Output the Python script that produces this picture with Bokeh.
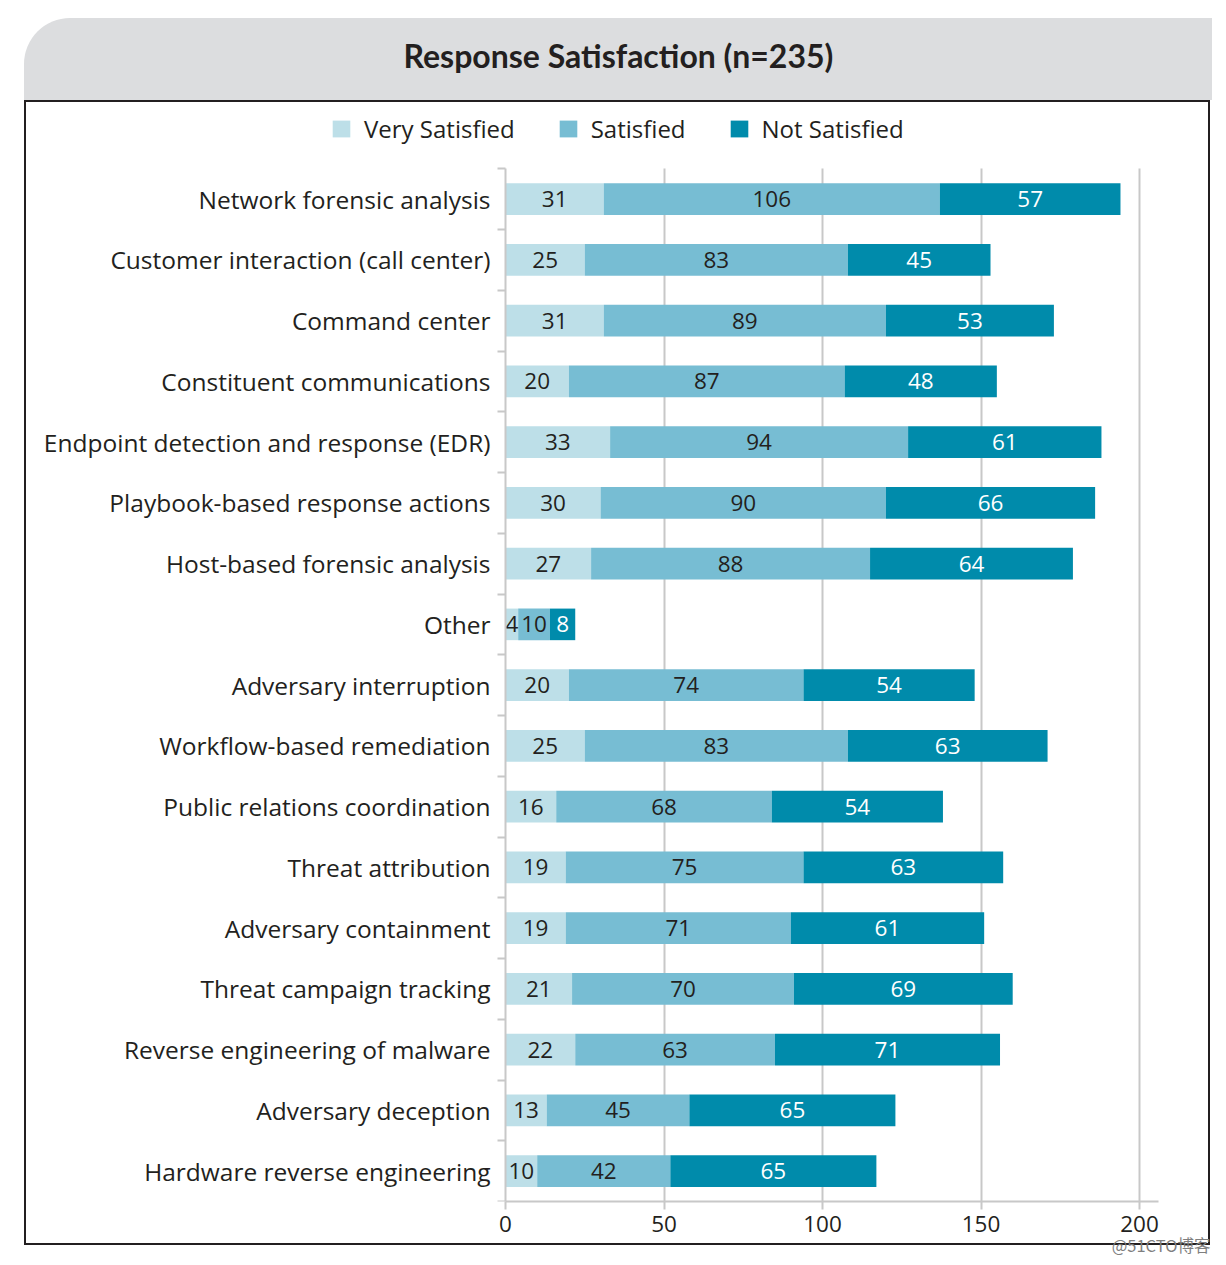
from bokeh.plotting import figure
from bokeh.models import ColumnDataSource, FixedTicker, Range1d, Legend, LegendItem, Spacer
from bokeh.layouts import column, row
from bokeh.embed import file_html
from bokeh.resources import INLINE
from bokeh.core.properties import value

categories = [
    "Network forensic analysis",
    "Customer interaction (call center)",
    "Command center",
    "Constituent communications",
    "Endpoint detection and response (EDR)",
    "Playbook-based response actions",
    "Host-based forensic analysis",
    "Other",
    "Adversary interruption",
    "Workflow-based remediation",
    "Public relations coordination",
    "Threat attribution",
    "Adversary containment",
    "Threat campaign tracking",
    "Reverse engineering of malware",
    "Adversary deception",
    "Hardware reverse engineering",
]
very_satisfied = [31, 25, 31, 20, 33, 30, 27, 4, 20, 25, 16, 19, 19, 21, 22, 13, 10]
satisfied = [106, 83, 89, 87, 94, 90, 88, 10, 74, 83, 68, 75, 71, 70, 63, 45, 42]
not_satisfied = [57, 45, 53, 48, 61, 66, 64, 8, 54, 63, 54, 63, 61, 69, 71, 65, 65]
series_names = ["Very Satisfied", "Satisfied", "Not Satisfied"]
series_colors = ["#BDDFE8", "#77BDD3", "#008BAB"]
label_colors = ["#231F20", "#231F20", "#FFFFFF"]
x_ticks = [0, 50, 100, 150, 200]
title_text = "Response Satisfaction (n=235)"
watermark = "@51CTO博客"

FONT = "Open Sans"
TXT = "#231F20"
GRID = "#C8C8C8"
W = 1188           # header width
BOX_W = 1186       # bordered box width
BOX_H = 1145       # bordered box height
MR = 54            # right border inside box
MB = 46            # bottom border (x axis panel)
PX_PER_UNIT = 3.17
ROW_PX = 60.75
LABEL_SPACE = 479  # px between frame left and x = 0

n = len(categories)
ypos = [n - i for i in range(n)]
series = [very_satisfied, satisfied, not_satisfied]
keys = ["vs", "s", "ns"]

data = {"y": ypos, "cat": categories}
for k, s in zip(keys, series):
    data[k] = s
source = ColumnDataSource(data)

# ---- header ----
hdr = figure(width=W, height=82, x_range=Range1d(0, 1), y_range=Range1d(0, 1),
             output_backend="svg", toolbar_location=None,
             min_border_left=0, min_border_right=MR, min_border_top=56, min_border_bottom=0,
             outline_line_color=None, background_fill_alpha=0, border_fill_alpha=0)
hdr.axis.visible = False
hdr.grid.visible = False
hdr.title.text = title_text
hdr.title.align = "left"
hdr.title.offset = 379
hdr.title.text_font = "Lato"
hdr.title.text_font_style = "bold"
hdr.title.text_font_size = "32px"
hdr.title.text_color = TXT
hdr.title.standoff = 0
hdr.styles = {"border-top-left-radius": "46px", "overflow": "hidden",
              "background-color": "#DCDDDF"}

# ---- main (bordered box) ----
frame_w = BOX_W - MR
frame_h = BOX_H - MB
x0 = -LABEL_SPACE / PX_PER_UNIT
x1 = x0 + frame_w / PX_PER_UNIT
y0 = 0.5
y1 = y0 + frame_h / ROW_PX

p = figure(width=BOX_W, height=BOX_H, y_range=Range1d(y0, y1), x_range=Range1d(x0, x1),
           output_backend="svg", toolbar_location=None,
           min_border_left=0, min_border_right=MR, min_border_top=0, min_border_bottom=MB,
           outline_line_color=None)
p.styles = {"border": "2px solid #231F20", "box-sizing": "border-box"}

renderers = p.hbar_stack(keys, y="y", height=0.52, color=series_colors, line_color=None,
                         source=source)

# value labels
lefts = [0] * n
for k, s, lc in zip(keys, series, label_colors):
    cx = [l + v / 2 for l, v in zip(lefts, s)]
    p.text(x=cx, y=ypos, text=[str(v) for v in s], text_align="center",
           text_baseline="middle", text_font=value(FONT), text_font_size="22.5px",
           text_color=lc)
    lefts = [l + v for l, v in zip(lefts, s)]

# axes
p.xaxis.ticker = FixedTicker(ticks=x_ticks)
p.xaxis.bounds = (0, x1)
p.xaxis.axis_line_color = GRID
p.xaxis.axis_line_width = 2
p.xaxis.major_tick_line_color = GRID
p.xaxis.major_tick_line_width = 2
p.xaxis.major_tick_out = 8
p.xaxis.major_tick_in = 0
p.xaxis.minor_tick_line_color = None
p.xaxis.major_label_text_font = FONT
p.xaxis.major_label_text_font_size = "22.5px"
p.xaxis.major_label_text_color = TXT
p.xaxis.major_label_standoff = 6

p.yaxis.fixed_location = 0
p.yaxis.bounds = (0.5, n + 0.5)
p.yaxis.ticker = FixedTicker(ticks=ypos, minor_ticks=[k + 0.5 for k in range(n + 1)])
p.yaxis.major_label_overrides = {y: c for y, c in zip(ypos, categories)}
p.yaxis.axis_line_color = GRID
p.yaxis.axis_line_width = 2
p.yaxis.major_tick_line_color = None
p.yaxis.major_tick_out = 0
p.yaxis.major_tick_in = 0
p.yaxis.minor_tick_line_color = GRID
p.yaxis.minor_tick_line_width = 2
p.yaxis.minor_tick_out = 8
p.yaxis.minor_tick_in = 0
p.yaxis.major_label_text_font = FONT
p.yaxis.major_label_text_font_size = "24.5px"
p.yaxis.major_label_text_color = TXT
p.yaxis.major_label_standoff = 7

p.ygrid.visible = False
p.xgrid.ticker = FixedTicker(ticks=x_ticks[1:])
p.xgrid.grid_line_color = GRID
p.xgrid.grid_line_width = 2
try:
    p.xgrid.cross_bounds = (0.5, n + 0.5)
except AttributeError:
    p.xgrid.visible = False
    p.segment(x0=x_ticks[1:], x1=x_ticks[1:], y0=[0.5] * 4, y1=[n + 0.5] * 4,
              line_color=GRID, line_width=2)

legend = Legend(items=[LegendItem(label=nm, renderers=[r]) for nm, r in zip(series_names, renderers)],
                orientation="horizontal", location=(304, 1056),
                glyph_width=22, glyph_height=21, label_standoff=12, spacing=42,
                padding=0, margin=0, border_line_color=None, background_fill_alpha=0,
                label_text_font=FONT, label_text_font_size="24px", label_text_color=TXT)
p.add_layout(legend, "center")

# ---- watermark strip ----
wmf = figure(width=W, height=30, x_range=Range1d(0, 1), y_range=Range1d(0, 1),
             output_backend="svg", toolbar_location=None,
             min_border_left=0, min_border_right=MR, min_border_top=26, min_border_bottom=4,
             outline_line_color=None, background_fill_alpha=0, border_fill_alpha=0)
wmf.axis.visible = False
wmf.grid.visible = False
wmf.title.text = watermark
wmf.title.align = "right"
wmf.title.offset = -52
wmf.title.text_font = "Noto Sans CJK SC"
wmf.title.text_font_style = "normal"
wmf.title.text_font_size = "16.5px"
wmf.title.text_color = "#7F7F7F"
wmf.title.standoff = 0
wmf.styles = {"margin-top": "-15px"}

layout = row(Spacer(width=24), column(Spacer(height=18), hdr, p, wmf, spacing=0), spacing=0)
open("out.html", "w").write(file_html(layout, INLINE))
